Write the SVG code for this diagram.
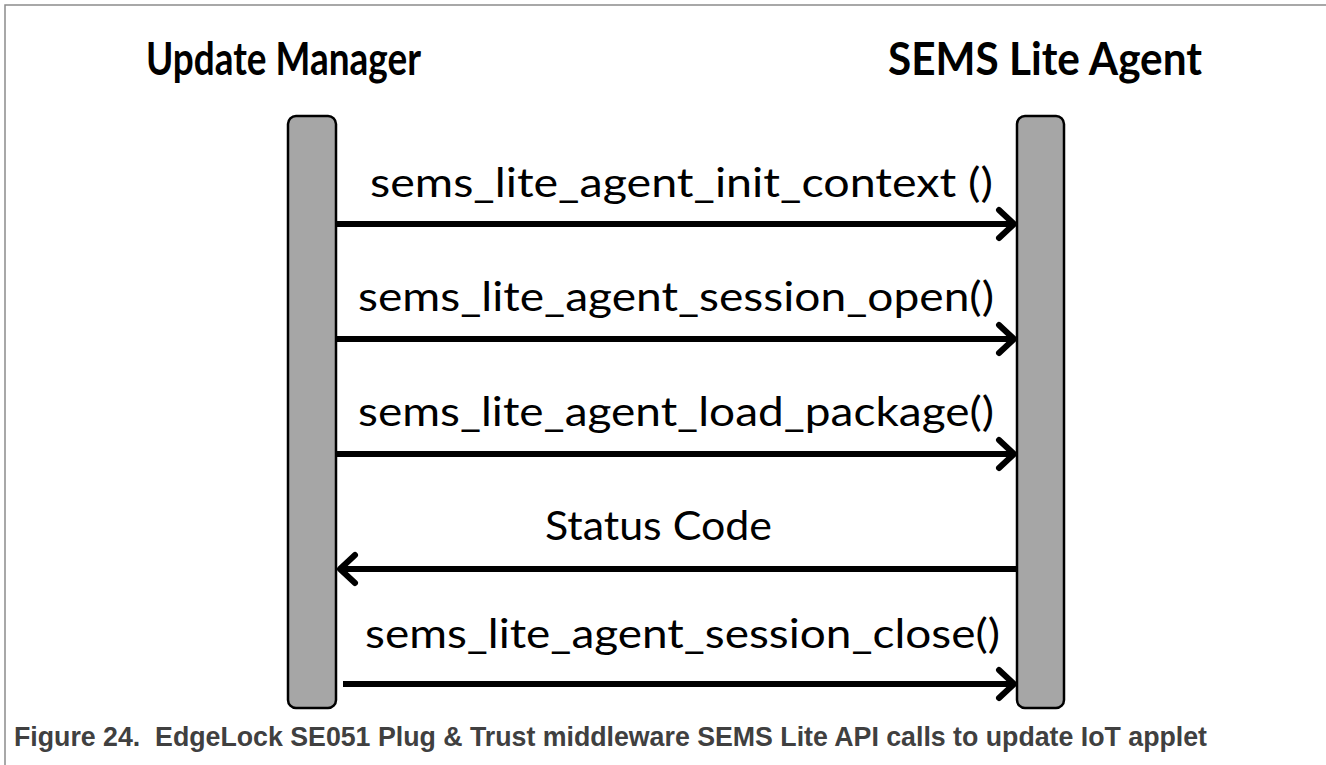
<svg xmlns="http://www.w3.org/2000/svg" width="1326" height="765" viewBox="0 0 1326 765">
  <style>
    .frame { stroke: #8c8c8c; stroke-width: 1.5; fill: none; }
    .actor { font-family: Lato, "Open Sans", sans-serif; font-weight: bold; font-size: 46px; fill: #000; }
    .life { fill: #a6a6a6; stroke: #000; stroke-width: 2.5; }
    .msg { font-family: Lato, "Open Sans", sans-serif; font-size: 41px; fill: #000; }
    .wire { stroke: #000; stroke-width: 6; fill: none; }
    .caption { font-family: "Liberation Sans", Arial, sans-serif; font-weight: bold; font-size: 27px; fill: #404040; white-space: pre; }
  </style>
  <defs>
    <!-- open chevron arrowhead shared by every message -->
    <marker id="head" markerUnits="userSpaceOnUse" markerWidth="40" markerHeight="40" viewBox="-20 -20 40 40" refX="0" refY="0" orient="auto">
      <path d="M-15,-14 L0,0 L-15,14" fill="none" stroke="#000" stroke-width="6" stroke-linecap="round" stroke-linejoin="round"/>
    </marker>
  </defs>

  <rect width="1326" height="765" fill="#fff"/>
  <path class="frame" d="M5,765 V5 H1326"/>

  <g id="update-manager">
    <text class="actor" x="146" y="75" textLength="275" lengthAdjust="spacingAndGlyphs">Update Manager</text>
    <rect class="life" x="288" y="116" width="48" height="592" rx="8"/>
  </g>
  <g id="sems-lite-agent">
    <text class="actor" x="888" y="75" textLength="314" lengthAdjust="spacingAndGlyphs">SEMS Lite Agent</text>
    <rect class="life" x="1017" y="116" width="47" height="592" rx="8"/>
  </g>

  <g id="connectors">
    <line class="wire" x1="337" y1="224" x2="1014" y2="224" marker-end="url(#head)"/>
    <line class="wire" x1="337" y1="339" x2="1014" y2="339" marker-end="url(#head)"/>
    <line class="wire" x1="337" y1="454" x2="1014" y2="454" marker-end="url(#head)"/>
    <line class="wire" x1="1016" y1="569" x2="340" y2="569" marker-end="url(#head)"/>
    <line class="wire" x1="343" y1="684" x2="1014" y2="684" marker-end="url(#head)"/>
  </g>

  <g id="labels">
    <text class="msg" x="370" y="197" textLength="623" lengthAdjust="spacingAndGlyphs">sems_lite_agent_init_context ()</text>
    <text class="msg" x="358" y="311" textLength="636" lengthAdjust="spacingAndGlyphs">sems_lite_agent_session_open()</text>
    <text class="msg" x="358" y="426" textLength="636" lengthAdjust="spacingAndGlyphs">sems_lite_agent_load_package()</text>
    <text class="msg" x="545" y="540" textLength="227" lengthAdjust="spacingAndGlyphs">Status Code</text>
    <text class="msg" x="365" y="648" textLength="635" lengthAdjust="spacingAndGlyphs">sems_lite_agent_session_close()</text>
  </g>

  <text class="caption" x="14" y="746" textLength="1193" lengthAdjust="spacingAndGlyphs">Figure 24.  EdgeLock SE051 Plug &amp; Trust middleware SEMS Lite API calls to update IoT applet</text>
</svg>
